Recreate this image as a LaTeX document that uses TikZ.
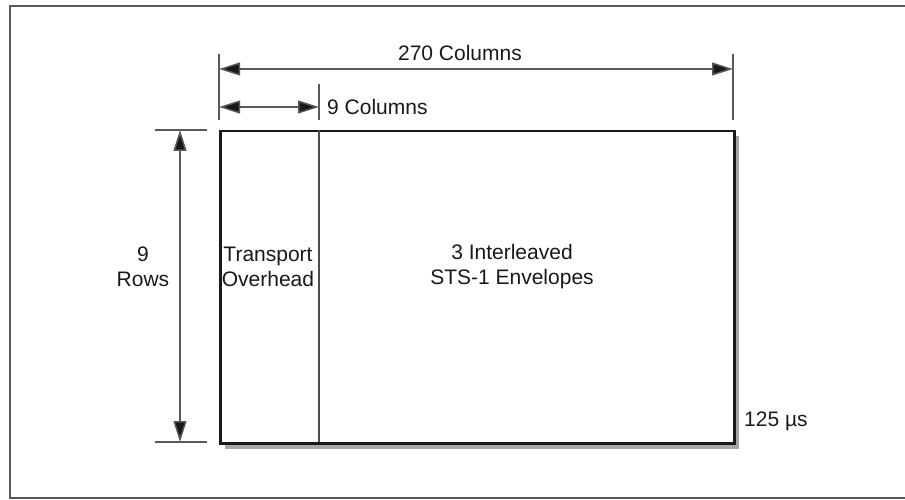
\documentclass[tikz,border=0pt]{standalone}
\usepackage{fontspec}
\setmainfont{Liberation Sans}
\usetikzlibrary{arrows.meta}
\begin{document}
\begin{tikzpicture}[x=1pt,y=-1pt,
  lbl/.style={font=\fontsize{21}{25}\selectfont, text=black!90, inner sep=0pt, align=center},
  dimline/.style={draw=black!65, line width=1.5pt},
  dimarrow/.style={dimline, {Triangle[length=21pt,width=13pt,fill=black!90]}-{Triangle[length=21pt,width=13pt,fill=black!90]}}
]
\useasboundingbox (0,0) rectangle (905,500);
\begin{scope}
\clip (0,0) rectangle (905,500);
\draw[black!65, line width=2pt] (10,6) rectangle (915,498);
\end{scope}
% shadow
\fill[black!35] (225,136) rectangle (739,449);
% main box
\node[draw=black!90, fill=white, line width=2.5pt, minimum width=514pt, minimum height=312pt, inner sep=0pt, anchor=north west] (box) at (219,130) {};
\coordinate (dt) at (319,130);
\coordinate (db) at (319,442);
\draw[black!70, line width=1.5pt] (dt) -- (db);
% extension lines
\coordinate (e1t) at (219,54); \coordinate (e1b) at (219,120);
\coordinate (e2t) at (733,54); \coordinate (e2b) at (733,120);
\coordinate (e3t) at (319,84); \coordinate (e3b) at (319,120);
\draw[dimline] (e1t) -- (e1b);
\draw[dimline] (e2t) -- (e2b);
\draw[dimline] (e3t) -- (e3b);
\coordinate (h1l) at (155,130); \coordinate (h1r) at (207,130);
\coordinate (h2l) at (155,442); \coordinate (h2r) at (207,442);
\draw[dimline] (h1l) -- (h1r);
\draw[dimline] (h2l) -- (h2r);
% arrows
\coordinate (a1l) at (219,69); \coordinate (a1r) at (733,69);
\draw[dimarrow] (a1l) -- (a1r);
\coordinate (a2l) at (219,107); \coordinate (a2r) at (319,107);
\draw[dimarrow] (a2l) -- (a2r);
\coordinate (a3t) at (180,130); \coordinate (a3b) at (180,442);
\draw[dimarrow] (a3t) -- (a3b);
% labels
\node[lbl] (t270) at (460,53) {270 Columns};
\node[lbl, anchor=west] (t9) at (327,107) {9 Columns};
\node[lbl] (rows) at (143,267) {9\\Rows};
\node[lbl] (toh) at (268,267) {Transport\\Overhead};
\node[lbl] (env) at (512,267) {3 Interleaved\\STS-1 Envelopes};
\node[lbl, anchor=west] (us) at (744,421) {125 µs};
\end{tikzpicture}
\end{document}
